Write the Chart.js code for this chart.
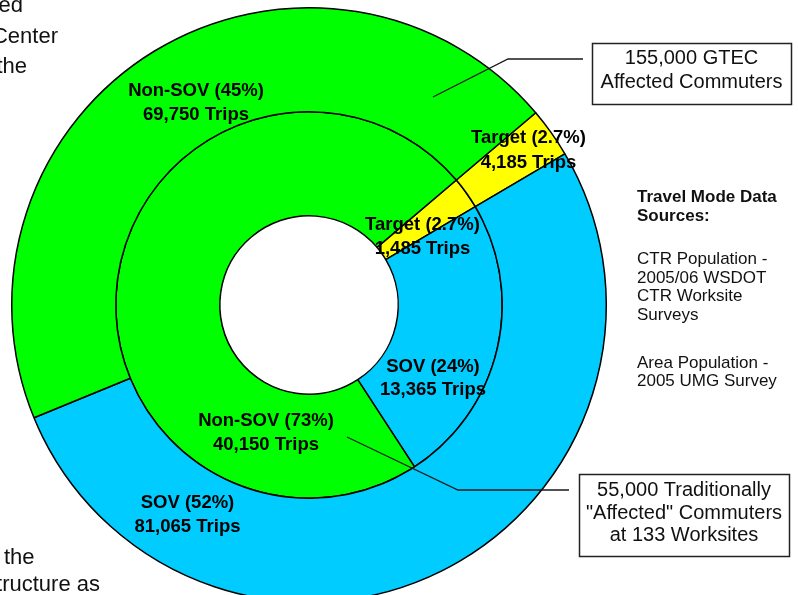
<!DOCTYPE html>
<html>
<head>
<meta charset="utf-8">
<script src="https://cdn.jsdelivr.net/npm/chart.js@4.4.1/dist/chart.umd.min.js"></script>
<style>
  html, body { margin: 0; padding: 0; background: #ffffff; overflow: hidden; }
  #wrap { position: relative; width: 798px; height: 595px; overflow: hidden; }
  #c { position: absolute; left: 0; top: 0; }
</style>
</head>
<body>
<div id="wrap"><canvas id="c" width="798" height="610"></canvas></div>
<script>
// ---- data ----
const categories = ['Target', 'SOV', 'Non-SOV'];
// outer ring: 155,000 GTEC affected commuters
const areaTrips = [4185, 81065, 69750];
const areaPct = ['2.7%', '52%', '45%'];
// inner ring: 55,000 traditionally affected commuters (CTR)
const ctrTrips = [1485, 13365, 40150];
const ctrPct = ['2.7%', '24%', '73%'];
const sliceColors = ['#FFFF00', '#00CCFF', '#00FF00'];

// ---- annotation text ----
const box1Lines = ['155,000 GTEC', 'Affected Commuters'];
const box2Lines = ['55,000 Traditionally', '"Affected" Commuters', 'at 133 Worksites'];
const sourceHead = ['Travel Mode Data', 'Sources:'];
const sourceBody = ['CTR Population -', '2005/06 WSDOT', 'CTR Worksite', 'Surveys', 'Area Population -', '2005 UMG Survey'];
const sideTextTop = ['ed', 'Center', 'the'];
const sideTextBottom = ['the', 'tructure as'];

// ---- label placement (offsets from chart center, px) ----
const labelPlacement = [
  { ds: 0, i: 2, dx: -113, dy: -209, gap: 24 },
  { ds: 0, i: 0, dx: 219.5, dy: -162, gap: 25 },
  { ds: 0, i: 1, dx: -121.5, dy: 203, gap: 23.5 },
  { ds: 1, i: 0, dx: 113.5, dy: -75, gap: 23.5 },
  { ds: 1, i: 1, dx: 124, dy: 67, gap: 22.5 },
  { ds: 1, i: 2, dx: -43, dy: 120.5, gap: 24 }
];

function fmt(n) { return String(n).replace(/\B(?=(\d{3})+(?!\d))/g, ','); }

const FONT = '"Liberation Sans", Arial, Helvetica, sans-serif';

const overlay = {
  id: 'overlay',
  afterDraw(chart) {
    const ctx = chart.ctx;
    const a = chart.getDatasetMeta(0).data[0];
    const cx = a.x, cy = a.y;
    const pcts = [areaPct, ctrPct];
    const trips = [areaTrips, ctrTrips];
    ctx.save();

    // leader lines
    ctx.strokeStyle = '#1a1a1a';
    ctx.lineWidth = 1.3;
    ctx.beginPath();
    ctx.moveTo(433, 97); ctx.lineTo(508, 59); ctx.lineTo(583, 59);
    ctx.moveTo(347, 437); ctx.lineTo(458, 490); ctx.lineTo(569, 490);
    ctx.stroke();

    // slice labels
    ctx.fillStyle = '#000';
    ctx.font = 'bold 18.5px ' + FONT;
    ctx.textAlign = 'center';
    ctx.textBaseline = 'alphabetic';
    labelPlacement.forEach(p => {
      const t1 = categories[p.i] + ' (' + pcts[p.ds][p.i] + ')';
      const t2 = fmt(trips[p.ds][p.i]) + ' Trips';
      ctx.fillText(t1, cx + p.dx, cy + p.dy);
      ctx.fillText(t2, cx + p.dx, cy + p.dy + p.gap);
    });

    // boxes
    ctx.fillStyle = '#fff';
    ctx.strokeStyle = '#222';
    ctx.lineWidth = 1.5;
    ctx.fillRect(592, 43, 199, 61);
    ctx.strokeRect(592.5, 43.5, 199, 61);
    ctx.fillRect(579, 474, 210, 82);
    ctx.strokeRect(579.5, 474.5, 210, 82);

    ctx.fillStyle = '#111';
    ctx.font = '20px ' + FONT;
    ctx.textAlign = 'center';
    box1Lines.forEach((t, k) => ctx.fillText(t, 691.5, 63.5 + k * 24));
    box2Lines.forEach((t, k) => ctx.fillText(t, 684, 496 + k * 22.5));

    // sources block
    ctx.textAlign = 'left';
    ctx.font = 'bold 17px ' + FONT;
    ctx.fillText(sourceHead[0], 637, 202);
    ctx.fillText(sourceHead[1], 637, 221);
    ctx.font = '17px ' + FONT;
    const ys = [264, 282.5, 301, 320, 367.5, 386];
    sourceBody.forEach((t, k) => ctx.fillText(t, 637, ys[k]));

    // cut-off surrounding document text
    ctx.font = '22px ' + FONT;
    ctx.textAlign = 'right';
    ctx.fillText(sideTextTop[0], 23, 12);
    ctx.fillText(sideTextTop[1], 58, 43);
    ctx.fillText(sideTextTop[2], 27, 73);
    ctx.fillText(sideTextBottom[1], 100, 591);
    ctx.textAlign = 'left';
    ctx.fillText(sideTextBottom[0], 4, 563.5);

    ctx.restore();
  }
};

new Chart(document.getElementById('c'), {
  type: 'doughnut',
  data: {
    labels: categories,
    datasets: [
      { data: areaTrips, backgroundColor: sliceColors, borderColor: '#000', borderWidth: 1.5 },
      { data: ctrTrips, backgroundColor: sliceColors, borderColor: '#000', borderWidth: 1.5 }
    ]
  },
  options: {
    responsive: false,
    animation: false,
    devicePixelRatio: 1,
    rotation: 49.7,
    cutout: '30%',
    layout: { padding: { left: 11, top: 7, right: 191, bottom: 7 } },
    plugins: { legend: { display: false }, tooltip: { enabled: false } },
    events: []
  },
  plugins: [overlay]
});
</script>
</body>
</html>
